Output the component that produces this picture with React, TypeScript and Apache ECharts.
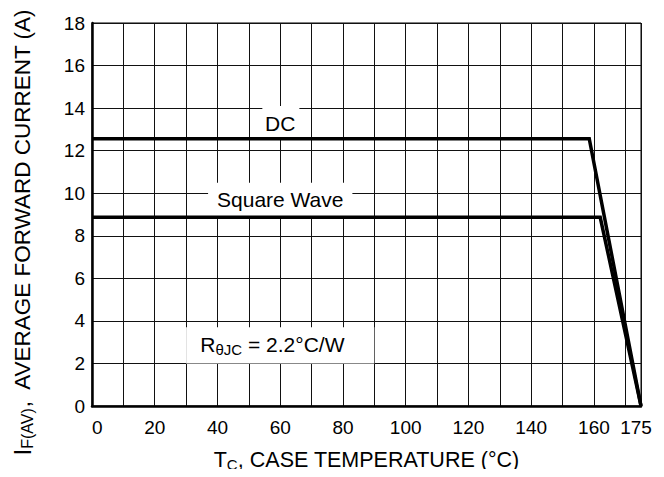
import React, { useEffect, useRef } from "react";
import * as echarts from "echarts";

const tempDC = [0, 158.5, 175];
const currentDC = [12.56, 12.56, 0];
const tempSW = [0, 162, 175];
const currentSW = [8.87, 8.87, 0];

const xLabelValues = [0, 20, 40, 60, 80, 100, 120, 140, 160, 175];

const annotations = [
  { text: "{m|DC}", box: [54.3, 66.1, 12.56, 14.1], at: [60, 13.3] },
  { text: "{m|Square Wave}", box: [37, 83, 8.87, 10.49], at: [60, 9.7] },
  { text: "{m|R}{s|θJC}{m| = 2.2°C/W}", box: [30, 90, 2, 3.7], at: [57.5, 2.9] },
];

const FONT = "'Liberation Sans', Arial, sans-serif";
const rich = {
  m: { fontSize: 21, fontFamily: FONT, fill: "#000", color: "#000" },
  s: { fontSize: 15, fontFamily: FONT, fill: "#000", color: "#000", padding: [10, 0, 0, 0] },
};

export default function App() {
  const ref = useRef<HTMLDivElement>(null);
  useEffect(() => {
    const chart = echarts.init(ref.current!, undefined, { renderer: "svg" });
    chart.setOption({
      animation: false,
      grid: {
        left: 92,
        right: 23,
        top: 23,
        bottom: 71,
        containLabel: false,
        outerBoundsMode: "none",
        show: true,
        borderColor: "#000",
        borderWidth: 1,
        backgroundColor: "#fff",
      },
      xAxis: {
        type: "value",
        min: 0,
        max: 175,
        interval: 10,
        axisLine: { show: true, onZero: false, lineStyle: { color: "#000", width: 2.5 } },
        axisTick: { show: false },
        splitLine: { show: true, lineStyle: { color: "#111", width: 1 } },
        axisLabel: {
          color: "#000",
          fontSize: 19,
          fontFamily: FONT,
          margin: 12,
          showMaxLabel: true,
          showMinLabel: true,
          hideOverlap: false,
          alignMinLabel: "left",
          formatter: (v: number) =>
            v === 175 ? "{r|175}" : xLabelValues.includes(v) ? String(v) : "",
          rich: { r: { fontSize: 19, fontFamily: FONT, color: "#000", padding: [0, 10, 0, 0] } },
        },
        name: "{m|T}{s|C}{m|, CASE TEMPERATURE (°C)}",
        nameLocation: "middle",
        nameGap: 42,
        nameTextStyle: {
          rich: {
            m: { fontSize: 21.5, fontFamily: FONT, color: "#000" },
            s: { fontSize: 15, fontFamily: FONT, color: "#000", padding: [9, 0, 0, 0] },
          },
        },
      },
      yAxis: {
        type: "value",
        min: 0,
        max: 18,
        interval: 2,
        axisLine: { show: true, lineStyle: { color: "#000", width: 2.5 } },
        axisTick: { show: false },
        splitLine: { show: true, lineStyle: { color: "#111", width: 1 } },
        axisLabel: { color: "#000", fontSize: 19, fontFamily: FONT, margin: 7 },
      },
      graphic: [
        {
          type: "text",
          x: 22,
          y: 232,
          rotation: Math.PI / 2,
          style: {
            text: "{b|I}{s|F(AV)}{m|,  AVERAGE FORWARD CURRENT (A)}",
            rich: {
              m: { fontSize: 22.5, fontFamily: FONT, fill: "#000" },
              s: { fontSize: 16, fontFamily: FONT, fill: "#000", padding: [10, 0, 0, 0] },
              b: { fontSize: 24, fontFamily: FONT, fill: "#000" },
            },
            align: "center",
            verticalAlign: "middle",
          },
        },
      ],
      series: [
        {
          type: "custom",
          z: 1,
          silent: true,
          data: annotations.map((_, i) => [i, 0]),
          renderItem: (params: any, api: any) => {
            const a = annotations[api.value(0)];
            const p0 = api.coord([a.box[0], a.box[3]]);
            const p1 = api.coord([a.box[1], a.box[2]]);
            const c = api.coord(a.at);
            return {
              type: "group",
              children: [
                {
                  type: "rect",
                  shape: { x: p0[0], y: p0[1], width: p1[0] - p0[0], height: p1[1] - p0[1] },
                  style: { fill: "#fff" },
                },
                {
                  type: "text",
                  x: c[0],
                  y: c[1],
                  style: { text: a.text, rich, align: "center", verticalAlign: "middle" },
                },
              ],
            };
          },
        },
        {
          type: "line",
          z: 3,
          data: tempDC.map((t, i) => [t, currentDC[i]]),
          showSymbol: false,
          lineStyle: { color: "#000", width: 3.5, join: "miter" },
          itemStyle: { color: "#000" },
        },
        {
          type: "line",
          z: 3,
          data: tempSW.map((t, i) => [t, currentSW[i]]),
          showSymbol: false,
          lineStyle: { color: "#000", width: 3.5, join: "miter" },
          itemStyle: { color: "#000" },
        },
      ],
    });
    return () => chart.dispose();
  }, []);
  return <div ref={ref} style={{ width: 664, height: 477, margin: -8 }} />;
}
